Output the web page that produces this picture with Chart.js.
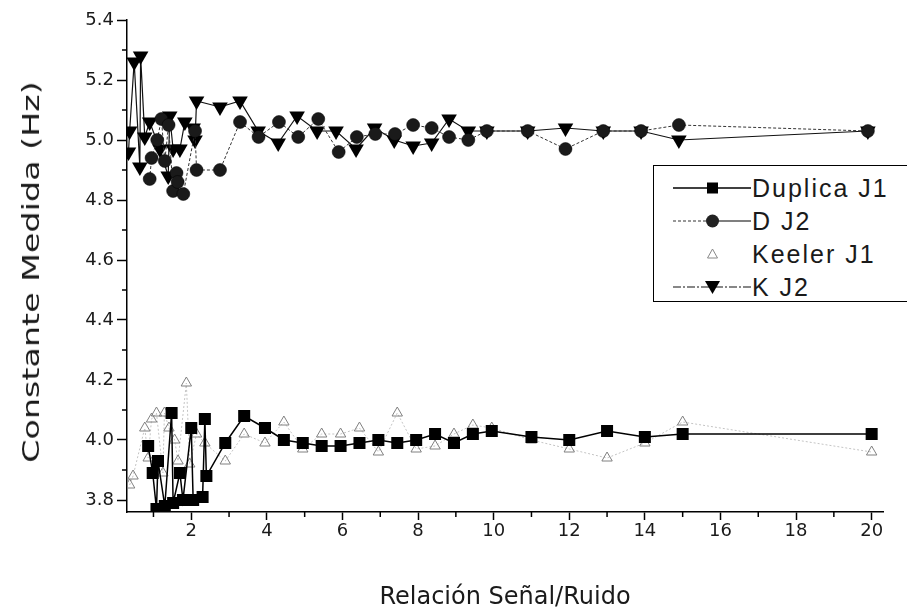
<!DOCTYPE html>
<html><head><meta charset="utf-8">
<script src="https://cdn.jsdelivr.net/npm/chart.js@4.4.1/dist/chart.umd.min.js"></script>
<style>
html,body{margin:0;padding:0;background:#fff;}
#wrap{position:relative;width:907px;height:610px;overflow:hidden;background:#fff;}
#c{position:absolute;left:0;top:0;}
#ytitle{position:absolute;left:31px;top:272px;font-family:"DejaVu Sans",sans-serif;font-size:23px;white-space:nowrap;color:#1a1a1a;transform:translate(-50%,-50%) rotate(-90deg) scaleX(1.45);}
#legend{position:absolute;left:653px;top:165px;width:300px;height:135px;border:1.5px solid #000;background:#fff;}
.row{position:absolute;left:0;height:30px;width:300px;}
.row svg{position:absolute;left:19px;top:3px;}
.row span{position:absolute;left:98px;top:0;line-height:30px;font-family:"Liberation Sans",Arial,sans-serif;font-size:25px;color:#1a1a1a;letter-spacing:2px;white-space:nowrap;}
</style></head>
<body><div id="wrap">
<canvas id="c" width="907" height="610"></canvas>
<div id="ytitle">Constante Medida (Hz)</div>
<div id="legend">
 <div class="row" style="top:7px"><svg width="80" height="24"><line x1="0" y1="12" x2="78" y2="12" stroke="#000" stroke-width="1.5"/><rect x="34" y="6.5" width="11" height="11" fill="#000"/></svg><span>Duplica J1</span></div>
 <div class="row" style="top:40px"><svg width="80" height="24"><line x1="0" y1="12" x2="34" y2="12" stroke="#333" stroke-width="1.2" stroke-dasharray="3,2"/><line x1="44" y1="12" x2="78" y2="12" stroke="#000" stroke-width="1.2"/><circle cx="39.5" cy="12" r="6.5" fill="#222"/></svg><span>D J2</span></div>
 <div class="row" style="top:73px"><svg width="80" height="24"><polygon points="39.5,7 34.5,16 44.5,16" fill="none" stroke="#888" stroke-width="1"/></svg><span>Keeler J1</span></div>
 <div class="row" style="top:106px"><svg width="80" height="24"><line x1="0" y1="12" x2="78" y2="12" stroke="#111" stroke-width="1.2" stroke-dasharray="8,2,2,2"/><polygon points="32,6 47,6 39.5,19" fill="#000"/></svg><span>K J2</span></div>
</div>
</div>
<script>
// ---- data ----
const dupX = [0.86, 0.98, 1.08, 1.12, 1.30, 1.48, 1.52, 1.70, 1.78, 2.00, 2.05, 2.30, 2.36, 2.40, 2.90, 3.40, 3.95, 4.45, 4.95, 5.45, 5.95, 6.45, 6.95, 7.45, 7.95, 8.45, 8.95, 9.45, 9.95, 11.0, 12.0, 13.0, 14.0, 15.0, 20.0];
const dupY = [3.98, 3.89, 3.77, 3.93, 3.78, 4.09, 3.79, 3.89, 3.80, 4.04, 3.80, 3.81, 4.07, 3.88, 3.99, 4.08, 4.04, 4.00, 3.99, 3.98, 3.98, 3.99, 4.00, 3.99, 4.00, 4.02, 3.99, 4.02, 4.03, 4.01, 4.00, 4.03, 4.01, 4.02, 4.02];

const dj2X = [0.90, 0.95, 1.10, 1.21, 1.30, 1.40, 1.52, 1.61, 1.64, 1.79, 2.10, 2.14, 2.76, 3.29, 3.78, 4.32, 4.83, 5.36, 5.90, 6.38, 6.87, 7.39, 7.87, 8.36, 8.82, 9.33, 9.82, 10.9, 11.9, 12.9, 13.9, 14.9, 19.9];
const dj2Y = [4.87, 4.94, 5.00, 5.07, 4.93, 5.05, 4.83, 4.89, 4.86, 4.82, 5.03, 4.90, 4.90, 5.06, 5.01, 5.06, 5.01, 5.07, 4.96, 5.01, 5.02, 5.02, 5.05, 5.04, 5.01, 5.00, 5.03, 5.03, 4.97, 5.03, 5.03, 5.05, 5.03];

const keeX = [0.37, 0.46, 0.77, 0.86, 0.95, 1.08, 1.25, 1.29, 1.41, 1.56, 1.65, 1.87, 1.96, 2.14, 2.36, 2.90, 3.40, 3.95, 4.45, 4.95, 5.45, 5.95, 6.45, 6.95, 7.45, 7.95, 8.45, 8.95, 9.45, 9.95, 11.0, 12.0, 13.0, 14.0, 15.0, 20.0];
const keeY = [3.85, 3.88, 4.04, 3.94, 4.07, 4.09, 3.89, 4.09, 4.04, 4.00, 3.93, 4.19, 3.92, 4.02, 3.99, 3.93, 4.02, 3.99, 4.06, 3.97, 4.02, 4.02, 4.04, 3.96, 4.09, 3.97, 3.98, 4.02, 4.05, 4.04, 4.00, 3.97, 3.94, 3.99, 4.06, 3.96];

const kj2X = [0.34, 0.37, 0.49, 0.64, 0.66, 0.77, 0.90, 1.17, 1.39, 1.43, 1.52, 1.70, 1.83, 2.05, 2.10, 2.14, 2.76, 3.29, 3.77, 4.30, 4.80, 5.33, 5.83, 6.36, 6.85, 7.37, 7.87, 8.36, 8.82, 9.33, 9.82, 10.9, 11.9, 12.9, 13.9, 14.9, 19.9];
const kj2Y = [4.96, 5.03, 5.26, 4.91, 5.28, 5.01, 5.06, 4.97, 4.88, 5.08, 4.97, 4.97, 5.06, 5.04, 5.00, 5.13, 5.11, 5.13, 5.03, 4.99, 5.08, 5.03, 5.03, 4.97, 5.04, 5.00, 4.98, 4.99, 5.07, 5.03, 5.03, 5.03, 5.04, 5.03, 5.03, 5.00, 5.03];

const seriesNames = ['Duplica J1', 'D J2', 'Keeler J1', 'K J2'];
const xTickValues = [2, 4, 6, 8, 10, 12, 14, 16, 18, 20];
const yTickValues = [3.8, 4.0, 4.2, 4.4, 4.6, 4.8, 5.0, 5.2, 5.4];
const xMinorTicks = [1, 3, 5, 7, 9, 11, 13, 15, 17, 19];
const yMinorTicks = [3.9, 4.1, 4.3, 4.5, 4.7, 4.9, 5.1, 5.3];

function pts(xs, ys) { return xs.map((x, i) => ({ x: x, y: ys[i] })); }

const minorTicks = {
  id: 'minorTicks',
  afterDraw(chart) {
    const { ctx, chartArea, scales } = chart;
    ctx.save();
    ctx.strokeStyle = '#000';
    ctx.lineWidth = 1.5;
    yMinorTicks.forEach(v => {
      const p = scales.y.getPixelForValue(v);
      ctx.beginPath(); ctx.moveTo(chartArea.left - 5, p); ctx.lineTo(chartArea.left, p); ctx.stroke();
    });
    xMinorTicks.forEach(v => {
      const p = scales.x.getPixelForValue(v);
      ctx.beginPath(); ctx.moveTo(p, chartArea.bottom); ctx.lineTo(p, chartArea.bottom + 5); ctx.stroke();
    });
    ctx.restore();
  }
};

const tickFont = { family: 'DejaVu Sans', size: 18 };

new Chart(document.getElementById('c'), {
  type: 'scatter',
  data: {
    datasets: [
      { label: seriesNames[0], data: pts(dupX, dupY), showLine: true, borderColor: '#000', borderWidth: 1.5,
        pointStyle: 'rect', pointRadius: 8.5, pointBackgroundColor: '#000', pointBorderColor: '#000', pointBorderWidth: 0 },
      { label: seriesNames[1], data: pts(dj2X, dj2Y), showLine: true, borderColor: '#333', borderWidth: 1, borderDash: [3, 2],
        pointStyle: 'circle', pointRadius: 6.5, pointBackgroundColor: '#1a1a1a', pointBorderColor: '#000', pointBorderWidth: 0.5 },
      { label: seriesNames[2], data: pts(keeX, keeY), showLine: true, borderColor: '#c4c4c4', borderWidth: 1, borderDash: [2, 2],
        pointStyle: 'triangle', pointRadius: 6, pointBackgroundColor: 'rgba(255,255,255,0)', pointBorderColor: '#808080', pointBorderWidth: 1 },
      { label: seriesNames[3], data: pts(kj2X, kj2Y), showLine: true, borderColor: '#111', borderWidth: 1.2,
        pointStyle: 'triangle', pointRotation: 180, pointRadius: 9, pointBackgroundColor: '#000', pointBorderColor: '#000', pointBorderWidth: 0 }
    ]
  },
  options: {
    responsive: false,
    animation: false,
    elements: { line: { tension: 0 } },
    layout: { padding: { top: 20, right: 24, left: 0, bottom: 0 } },
    plugins: { legend: { display: false }, tooltip: { enabled: false } },
    scales: {
      x: {
        type: 'linear', min: 0.3, max: 20.3,
        afterFit(s) { s.height = 98; },
        afterBuildTicks(s) { s.ticks = xTickValues.map(v => ({ value: v })); },
        border: { display: true, color: '#000', width: 1.5 },
        grid: { drawOnChartArea: false, drawTicks: true, tickLength: 8, tickColor: '#000', tickWidth: 1.5 },
        ticks: { color: '#1a1a1a', font: tickFont, padding: 1, maxRotation: 0, callback: v => String(v) },
        title: { display: true, text: 'Relación Señal/Ruido', color: '#1a1a1a', font: { family: 'DejaVu Sans', size: 24, lineHeight: 1.0 }, padding: { top: 0, bottom: 0 } }
      },
      y: {
        type: 'linear', min: 3.76, max: 5.4,
        afterFit(s) { s.width = 127; },
        afterBuildTicks(s) { s.ticks = yTickValues.map(v => ({ value: v })); },
        border: { display: true, color: '#000', width: 1.5 },
        grid: { drawOnChartArea: false, drawTicks: true, tickLength: 10, tickColor: '#000', tickWidth: 1.5 },
        ticks: { color: '#1a1a1a', font: tickFont, padding: 3, callback: v => Number(v).toFixed(1) }
      }
    }
  },
  plugins: [minorTicks]
});
</script>
</body></html>
